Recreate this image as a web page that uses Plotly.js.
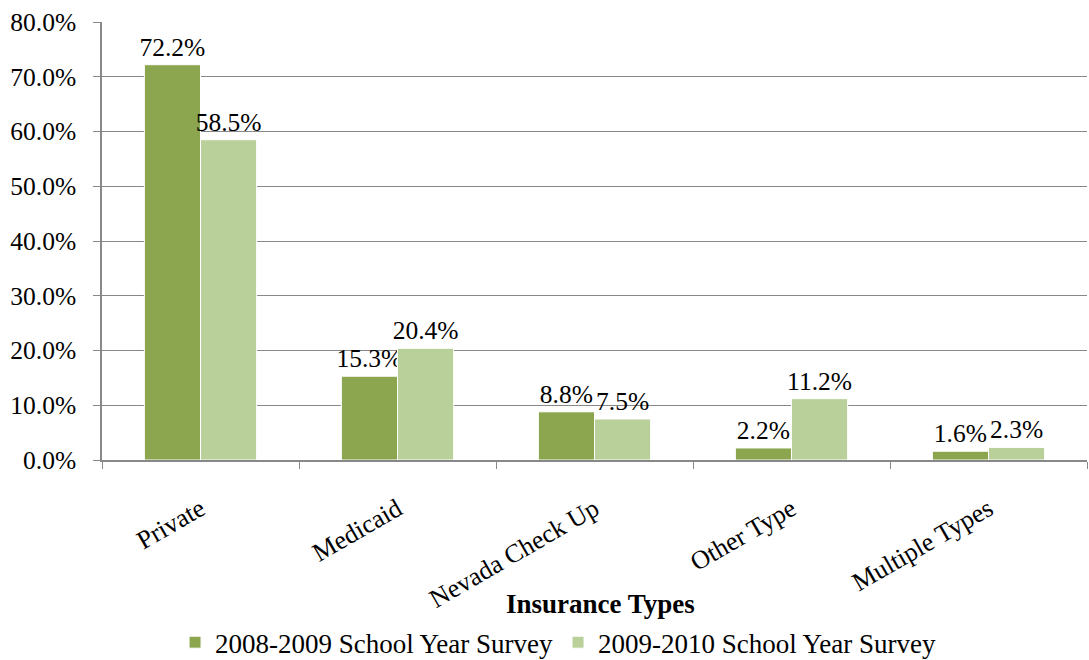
<!DOCTYPE html>
<html><head><meta charset="utf-8">
<script src="https://cdn.plot.ly/plotly-3.0.1.min.js"></script>
<style>html,body{margin:0;padding:0;background:#fff}</style>
</head><body><div id="chart" style="width:1089px;height:660px"></div>
<script>
const categories = ["Private", "Medicaid", "Nevada Check Up", "Other Type", "Multiple Types"];
const survey2008 = [72.2, 15.3, 8.8, 2.2, 1.6];
const survey2009 = [58.5, 20.4, 7.5, 11.2, 2.3];
const seriesNames = ["2008-2009 School Year Survey", "2009-2010 School Year Survey"];
const yTicks = [0, 10, 20, 30, 40, 50, 60, 70, 80];

const FAM = "Liberation Serif";
const f = (size) => ({family: FAM, size: size, color: "#000"});
function bar(name, y, color) {
  return {
    type: "bar", x: categories, y: y, name: name,
    marker: {color: color, line: {color: "#fff", width: 1}},
    text: y.map(v => v.toFixed(1) + "%"), textposition: "outside",
    constraintext: "none",
    textfont: f(25.5), cliponaxis: false
  };
}
const data = [bar(seriesNames[0], survey2008, "#8BA64F"), bar(seriesNames[1], survey2009, "#BAD09A")];
const layout = {
  width: 1089, height: 660,
  margin: {l: 102, r: 2, t: 22, b: 200, autoexpand: false},
  paper_bgcolor: "#fff", plot_bgcolor: "#fff",
  font: f(25.5),
  barmode: "group", bargap: 0.43, bargroupgap: 0,
  showlegend: true,
  legend: {orientation: "h", x: 0.463, xanchor: "center", y: -0.417, yanchor: "middle",
           font: f(27), itemwidth: 30, traceorder: "normal", tracegroupgap: 0},
  annotations: [{text: "<b>Insurance Types</b>", xref: "paper", yref: "paper",
                 x: 0.506, y: -0.329, xanchor: "center", yanchor: "middle",
                 showarrow: false, font: f(27)}],
  xaxis: {
    type: "category", tickangle: -30, tickson: "boundaries",
    ticks: "outside", ticklen: 7, tickcolor: "#888",
    showline: true, linecolor: "#888", linewidth: 1.5,
    ticklabelstandoff: 22,
    tickfont: f(26), automargin: false
  },
  yaxis: {
    range: [0, 80], tickvals: yTicks, ticktext: yTicks.map(v => v.toFixed(1) + "%"),
    ticks: "outside", ticklen: 7, tickcolor: "#888",
    showline: true, linecolor: "#888", linewidth: 1.5,
    ticklabelstandoff: 12,
    showgrid: true, gridcolor: "#888", gridwidth: 1.2, zeroline: false,
    tickfont: f(25.5), automargin: false
  }
};
Plotly.newPlot("chart", data, layout, {displayModeBar: false});
</script></body></html>
